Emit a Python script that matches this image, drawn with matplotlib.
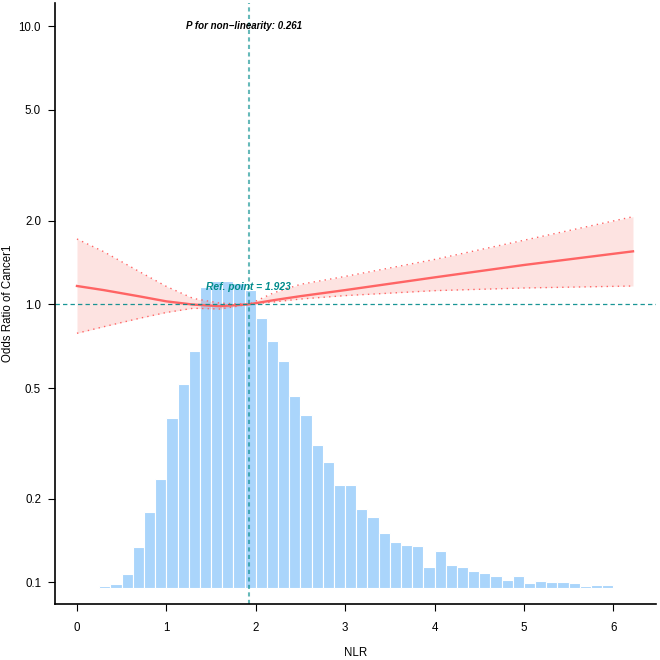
"""
Restricted cubic spline plot: odds ratio of Cancer1 by NLR, with NLR histogram.

Output:
- out.png
"""

from __future__ import annotations

import matplotlib

matplotlib.use("Agg")
import matplotlib.pyplot as plt

plt.rcParams["font.family"] = ["Liberation Sans", "DejaVu Sans"]

# spline fit
nlr = [0.0, 0.3, 0.7, 1.0, 1.3, 1.6, 1.923, 2.2, 2.5, 3.0, 4.0, 5.0, 6.22]
odds_ratio = [1.164, 1.125, 1.068, 1.025, 0.998, 0.985, 1.0, 1.035, 1.07, 1.125, 1.25, 1.385, 1.551]
ci_lower = [0.787, 0.831, 0.891, 0.935, 0.968, 0.962, 1.0, 1.02, 1.045, 1.075, 1.12, 1.145, 1.164]
ci_upper = [1.718, 1.546, 1.31, 1.16, 1.05, 1.01, 1.0, 1.10, 1.18, 1.26, 1.45, 1.70, 2.066]

REF_POINT = 1.923
P_NONLINEAR = 0.261

# histogram of NLR (relative frequency, %)
bin_left = [0.125 * k for k in range(1, 49)]
freq_pct = [
    0.01, 0.04, 0.09, 0.32, 0.92, 1.70, 2.42, 3.78, 4.53, 5.26,
    6.68, 6.80, 6.81, 6.76, 6.61, 5.98, 5.48, 5.04, 4.26, 3.83,
    3.18, 2.81, 2.30, 2.28, 1.76, 1.57, 1.23, 1.03, 0.95, 0.93,
    0.47, 0.83, 0.52, 0.47, 0.38, 0.34, 0.28, 0.18, 0.28, 0.12,
    0.16, 0.15, 0.14, 0.12, 0.05, 0.08, 0.07, 0.01,
]

y_ticks = [0.1, 0.2, 0.5, 1.0, 2.0, 5.0, 10.0]
x_ticks = [0, 1, 2, 3, 4, 5, 6]

LINE_RED = "#FF6464"
FILL_RED = "#F8766D"
TEAL = "#008B8B"
BAR_BLUE = "#AAD5FB"


def main() -> None:
    fig = plt.figure(figsize=(6.6, 6.6), dpi=100)
    ax = fig.add_axes([0.0833, 0.0844, 0.9106, 0.9111])
    ax_hist = ax.twinx()

    # histogram sits behind the spline
    ax.set_zorder(ax_hist.get_zorder() + 1)
    ax.patch.set_visible(False)

    ax_hist.bar(bin_left, freq_pct, width=0.125, align="edge",
                color=BAR_BLUE, edgecolor="white", linewidth=0.8)
    ax_hist.set_ylim(-0.3546, 12.972)
    ax_hist.axis("off")

    ax.fill_between(nlr, ci_lower, ci_upper, color=FILL_RED, alpha=0.2, linewidth=0)
    ax.plot(nlr, ci_lower, color=LINE_RED, linestyle=(0, (1, 3)), linewidth=1.0)
    ax.plot(nlr, ci_upper, color=LINE_RED, linestyle=(0, (1, 3)), linewidth=1.0)
    ax.plot(nlr, odds_ratio, color=LINE_RED, linewidth=1.7)

    ax.axhline(1.0, color=TEAL, alpha=0.9, linestyle=(0, (3.5, 2.5)), linewidth=0.9)
    ax.axvline(REF_POINT, color=TEAL, alpha=0.6, linestyle=(0, (2, 1.6)), linewidth=1.5)

    ax.text(REF_POINT, 1.155, f"Ref. point = {REF_POINT:.3f}", color=TEAL,
            fontsize=7.4, fontweight="bold", fontstyle="italic", ha="center", va="center")
    ax.text(1.865, 10.0, f"P for non\u2212linearity: {P_NONLINEAR:.3f}", color="black",
            fontsize=7, fontweight="bold", fontstyle="italic", ha="center", va="center")

    ax.set_yscale("log")
    ax.set_ylim(0.0834, 12.13)
    ax.set_xlim(-0.246, 6.477)
    ax.set_yticks(y_ticks)
    ax.set_yticklabels([f"{v:.1f}" for v in y_ticks])
    ax.minorticks_off()
    ax.set_xticks(x_ticks)

    for side in ("top", "right"):
        ax.spines[side].set_visible(False)
    for side in ("left", "bottom"):
        ax.spines[side].set_linewidth(1.2)

    ax.tick_params(axis="both", direction="out", length=5, width=0.8,
                   labelsize=8.3, colors="black")
    ax.tick_params(axis="x", pad=8)
    ax.tick_params(axis="y", pad=5)

    ax.set_xlabel("NLR", fontsize=8.3)
    ax.xaxis.set_label_coords(0.5, -0.071)
    ax.set_ylabel("Odds Ratio of Cancer1", fontsize=8.3)
    ax.yaxis.set_label_coords(-0.078, 0.5)
    ax.yaxis.label.set_va("center")

    fig.savefig("out.png", dpi=100)
    plt.close(fig)


if __name__ == "__main__":
    main()
